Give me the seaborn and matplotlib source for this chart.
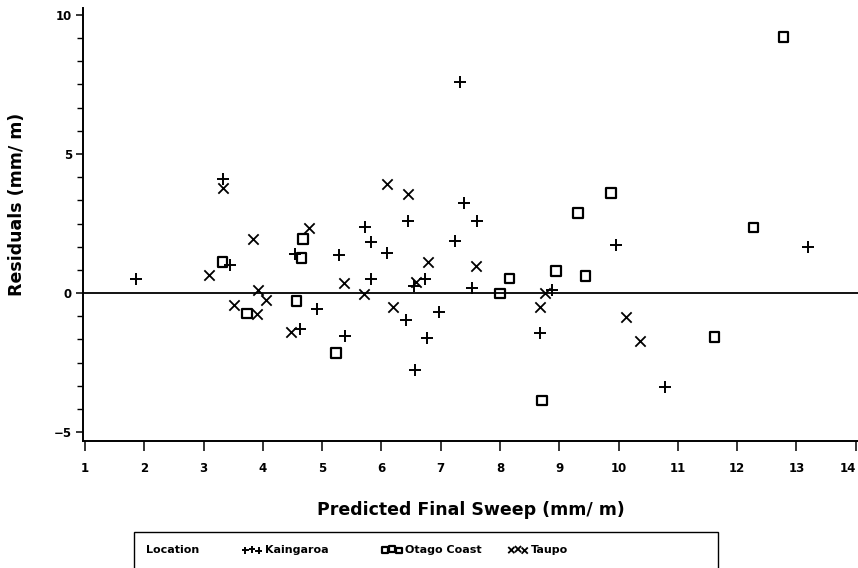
import pandas as pd
import matplotlib.pyplot as plt
import seaborn as sns
from matplotlib.patches import Rectangle
from matplotlib.ticker import MultipleLocator

# Residuals, one list pair per location
kaingaroa_pred = [1.86, 3.32, 3.45, 4.54, 4.63, 4.91, 5.29, 5.38, 5.72, 5.83,
                  5.82, 6.09, 6.41, 6.45, 6.55, 6.56, 6.73, 6.77, 6.97, 7.24,
                  7.32, 7.40, 7.52, 7.62, 8.67, 8.87, 9.95, 10.78, 13.20]
kaingaroa_resid = [0.49, 4.10, 1.01, 1.40, -1.29, -0.58, 1.36, -1.55, 2.39, 1.82,
                   0.52, 1.45, -0.97, 2.59, 0.25, -2.77, 0.50, -1.63, -0.67, 1.88,
                   7.60, 3.23, 0.19, 2.59, -1.45, 0.11, 1.73, -3.39, 1.64]

otago_pred = [3.32, 3.73, 4.57, 4.65, 4.68, 5.23, 8.00, 8.16, 8.71, 8.94,
              9.32, 9.44, 9.87, 11.62, 12.28, 12.78]
otago_resid = [1.12, -0.73, -0.29, 1.25, 1.94, -2.15, -0.01, 0.53, -3.87, 0.79,
               2.87, 0.62, 3.59, -1.57, 2.36, 9.20]

taupo_pred = [3.09, 3.32, 3.51, 3.83, 3.90, 3.91, 4.05, 4.47, 4.77, 5.36,
              5.70, 6.09, 6.19, 6.45, 6.58, 6.78, 7.59, 8.67, 8.76, 10.13, 10.36]
taupo_resid = [0.65, 3.77, -0.43, 1.93, -0.77, 0.11, -0.25, -1.39, 2.33, 0.37,
               -0.04, 3.92, -0.51, 3.55, 0.41, 1.10, 0.98, -0.51, 0.01, -0.87, -1.72]

locations = ['Kaingaroa', 'Otago Coast', 'Taupo']
x_ticks = list(range(1, 15))
y_ticks = [-5, 0, 5, 10]
y_tick_labels = ['\u22125', '0', '5', '10']

df = pd.concat([
    pd.DataFrame({'pred': kaingaroa_pred, 'resid': kaingaroa_resid, 'Location': 'Kaingaroa'}),
    pd.DataFrame({'pred': otago_pred, 'resid': otago_resid, 'Location': 'Otago Coast'}),
    pd.DataFrame({'pred': taupo_pred, 'resid': taupo_resid, 'Location': 'Taupo'}),
], ignore_index=True)

sns.set_style('ticks')
plt.rcParams['font.family'] = ['DejaVu Sans']
plt.rcParams['font.weight'] = 'bold'
# seaborn greys the text; the reference is plain black
for key in ['text.color', 'axes.labelcolor', 'xtick.color', 'ytick.color']:
    plt.rcParams[key] = 'black'

W, H = 858, 568
fig = plt.figure(figsize=(W / 100, H / 100), dpi=100)
ax = fig.add_axes([83 / W, 1 - 441 / H, 775 / W, 433 / H])

# line-art and filled markers can't share one seaborn call, so draw per group
styles = {
    'Kaingaroa': dict(marker='+', s=70, linewidth=1.4, color='black'),
    'Otago Coast': dict(marker='s', s=48, linewidth=1.6, facecolor='none', edgecolor='black'),
    'Taupo': dict(marker='x', s=55, linewidth=1.3, color='black'),
}
for loc in locations:
    sub = df[df['Location'] == loc]
    sns.scatterplot(data=sub, x='pred', y='resid', ax=ax, label=loc,
                    legend=False, **styles[loc])

ax.axhline(0, color='black', lw=1.3, zorder=1)

ax.set_xlim(0.965, 14.04)
ax.set_ylim(-5.32, 10.25)
ax.set_xticks(x_ticks)
ax.set_yticks(y_ticks)
ax.yaxis.set_minor_locator(MultipleLocator(5 / 6))
ax.set_yticklabels(y_tick_labels)
ax.tick_params(axis='both', labelsize=8.5, width=1.1, color='black', labelcolor='black')
ax.tick_params(axis='x', length=7, pad=8)
ax.tick_params(axis='y', which='major', length=5, pad=3)
ax.tick_params(axis='y', which='minor', length=4, width=1.0)
# keep the last x label inside the figure edge
ax.get_xticklabels()[-1].set_horizontalalignment('right')

sns.despine(ax=ax, top=True, right=True)
for sp in ['left', 'bottom']:
    ax.spines[sp].set_linewidth(1.4)
    ax.spines[sp].set_color('black')

ax.set_xlabel('Predicted Final Sweep (mm/ m)', fontsize=12.5, fontweight='bold')
ax.set_ylabel('Residuals (mm/ m)', fontsize=12.5, fontweight='bold')
ax.xaxis.set_label_coords(0.5, -(510 - 441) / 433)
ax.yaxis.set_label_coords(-(83 - 17) / 775, (441 - 204) / 433)
ax.xaxis.label.set_va('center')
ax.yaxis.label.set_va('center')

# legend box along the bottom, SAS style
fig.add_artist(Rectangle((134 / W, 1 - 580 / H), (718 - 134) / W, 48 / H,
                         transform=fig.transFigure, fill=False,
                         edgecolor='black', lw=1.0, clip_on=False))
fig.text(146 / W, 1 - 550 / H, 'Location', fontsize=8, fontweight='bold', va='center')
handles, labels = ax.get_legend_handles_labels()
entry_x = [242, 382, 508]
for h, lab, ex in zip(handles, labels, entry_x):
    fig.legend([h], [lab], loc='center left', bbox_to_anchor=(ex / W, 1 - 550 / H),
               frameon=False, scatterpoints=3, markerscale=0.6,
               handlelength=1.8, handletextpad=0.3, borderpad=0, borderaxespad=0,
               prop={'size': 8, 'weight': 'bold'})

fig.savefig('out.png', dpi=100)
